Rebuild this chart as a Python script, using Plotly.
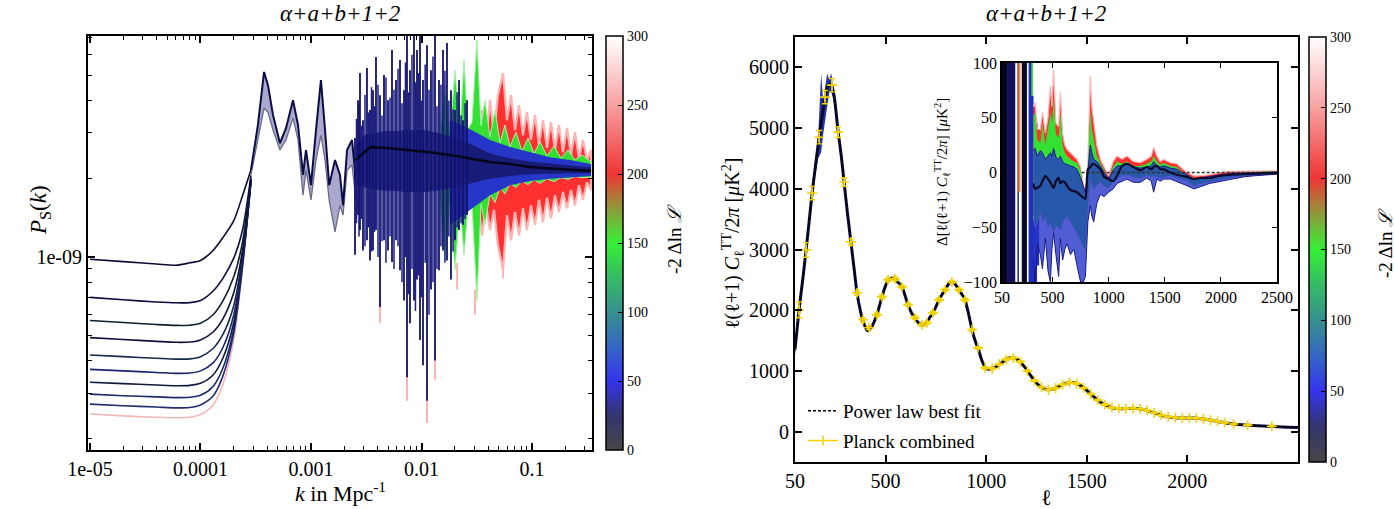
import plotly.graph_objects as go

SERIF = "Liberation Serif"

# ======================= LEFT PANEL: P_S(k) (values in units of 1e-9) =======================
K_LOW = [1e-5, 2e-5, 4e-5, 6e-5, 8e-5, 1e-4, 1.3e-4, 1.6e-4, 2e-4, 2.4e-4, 2.86e-4]
PS_LOW_1 = [0.98, 0.96, 0.94, 0.93, 0.95, 0.97, 1.06, 1.19, 1.38, 1.72, 2.16]
PS_LOW_2 = [0.70, 0.685, 0.672, 0.667, 0.668, 0.68, 0.74, 0.83, 0.99, 1.27, 2.06]
PS_LOW_3 = [0.57, 0.56, 0.55, 0.546, 0.547, 0.556, 0.60, 0.68, 0.84, 1.14, 2.01]
PS_LOW_4 = [0.49, 0.482, 0.474, 0.47, 0.471, 0.48, 0.515, 0.58, 0.73, 1.06, 2.00]
PS_LOW_5 = [0.42, 0.414, 0.408, 0.405, 0.406, 0.414, 0.445, 0.505, 0.65, 1.01, 1.98]
PS_LOW_6 = [0.37, 0.365, 0.36, 0.357, 0.358, 0.365, 0.392, 0.45, 0.60, 0.98, 1.97]
PS_LOW_7 = [0.33, 0.326, 0.322, 0.32, 0.321, 0.327, 0.352, 0.41, 0.56, 0.96, 1.96]
PS_LOW_8 = [0.297, 0.293, 0.29, 0.288, 0.289, 0.294, 0.318, 0.375, 0.53, 0.94, 1.95]
PS_LOW_9 = [0.272, 0.268, 0.265, 0.263, 0.264, 0.27, 0.292, 0.35, 0.51, 0.92, 1.94]
PS_LOW_10 = [0.249, 0.245, 0.242, 0.241, 0.242, 0.248, 0.27, 0.325, 0.48, 0.90, 1.93]

K_MID = [2.86e-4, 3.31e-4, 3.76e-4, 4.08e-4, 4.53e-4, 5.24e-4, 5.94e-4, 6.87e-4, 7.63e-4, 8.47e-4,
         9.01e-4, 1.0e-3, 1.11e-3, 1.23e-3, 1.34e-3, 1.46e-3, 1.65e-3, 1.83e-3, 1.95e-3, 2.12e-3,
         2.35e-3, 2.55e-3]
PS_MID_TOP = [2.16, 3.22, 5.15, 4.58, 3.52, 2.74, 3.13, 4.01, 3.22, 2.07, 2.58, 1.89, 3.08, 4.79,
              3.08, 1.89, 2.36, 2.07, 1.58, 2.58, 2.82, 1.98]
PS_MID_BOT = [2.07, 2.82, 3.74, 3.60, 3.08, 2.58, 2.82, 3.42, 2.82, 1.73, 2.16, 1.66, 2.36, 2.94,
              2.36, 1.66, 1.25, 1.58, 1.45, 2.16, 2.26, 1.66]

K_CEN = [2.55e-3, 3.42e-3, 5.19e-3, 7.87e-3, 1.19e-2, 1.81e-2, 2.75e-2, 4.17e-2, 6.32e-2, 9.59e-2,
         0.1455, 0.2208, 0.342]
PS_CEN = [2.36, 2.65, 2.62, 2.58, 2.53, 2.47, 2.40, 2.32, 2.28, 2.22, 2.19, 2.16, 2.14]

K_CORE = [2.55e-3, 3.08e-3, 3.79e-3, 4.68e-3, 5.75e-3, 7.10e-3, 8.73e-3, 1.08e-2, 1.32e-2, 1.63e-2,
          2.01e-2, 2.48e-2, 3.05e-2, 4.17e-2, 6.32e-2, 9.59e-2, 0.1455, 0.2208, 0.342]
PS_CORE_UP = [2.70, 2.95, 3.00, 3.05, 3.05, 3.08, 3.08, 3.08, 3.02, 2.95, 2.87, 2.78, 2.66, 2.50,
              2.40, 2.33, 2.29, 2.25, 2.21]
PS_CORE_LO = [1.90, 1.85, 1.82, 1.80, 1.80, 1.78, 1.78, 1.78, 1.80, 1.82, 1.86, 1.90, 1.94, 2.00,
              2.05, 2.08, 2.09, 2.10, 2.10]

K_BLUE = [0.0181, 0.0201, 0.0275, 0.0417, 0.0632, 0.0959, 0.1455, 0.2208, 0.342]
PS_BLUE_UP = [3.36, 3.30, 3.10, 2.82, 2.65, 2.53, 2.42, 2.36, 2.28]
PS_BLUE_LO = [1.33, 1.38, 1.52, 1.73, 1.89, 1.96, 2.00, 2.03, 2.05]

K_GREEN = [0.01470, 0.01632, 0.01811, 0.02010, 0.02231, 0.02424, 0.02635, 0.02864, 0.03178, 0.03455,
           0.03755, 0.04168, 0.04626, 0.05134, 0.05698, 0.06323, 0.07164, 0.08118, 0.09200, 0.1042,
           0.1181, 0.1367, 0.1581, 0.1830, 0.2117, 0.2449, 0.2835, 0.3419]
PS_GREEN_UP = [3.00, 4.58, 3.00, 5.23, 3.10, 5.72, 3.10, 3.30, 6.83, 3.20, 4.01, 2.90, 3.68, 2.75,
               3.22, 2.65, 3.02, 2.55, 2.87, 2.50, 2.77, 2.45, 2.67, 2.40, 2.58, 2.36, 2.47, 2.32]
PS_GREEN_LO = [1.60, 0.97, 1.60, 0.89, 1.60, 1.02, 1.55, 1.60, 0.68, 1.60, 1.33, 1.75, 1.62, 1.85,
               1.75, 1.92, 1.85, 1.96, 1.90, 1.98, 1.92, 2.00, 1.95, 2.02, 1.99, 2.04, 2.02, 2.03]

K_RED = [0.0324, 0.0353, 0.0384, 0.0417, 0.0453, 0.0492, 0.0547, 0.0594, 0.0646, 0.0702, 0.0763,
         0.0829, 0.0901, 0.0979, 0.1064, 0.1156, 0.1258, 0.1367, 0.1486, 0.1615, 0.1754, 0.1908,
         0.2073, 0.2254, 0.2449, 0.2661, 0.2895, 0.3147, 0.3420]
PS_RED_UP = [2.58, 3.68, 2.82, 4.01, 2.94, 4.19, 5.10, 3.36, 4.19, 3.08, 3.84, 2.94, 3.61, 2.82,
             3.52, 2.70, 3.36, 2.63, 3.30, 2.58, 3.22, 2.53, 3.14, 2.47, 3.02, 2.40, 2.82, 2.36, 2.58]
PS_RED_LO = [1.66, 1.21, 1.58, 1.27, 1.52, 1.11, 0.89, 1.45, 1.16, 1.49, 1.21, 1.54, 1.27, 1.58,
             1.33, 1.66, 1.36, 1.69, 1.41, 1.73, 1.49, 1.78, 1.54, 1.81, 1.58, 1.89, 1.66, 1.94, 1.81]

K_NAVY = [2.502e-3, 2.663e-3, 2.776e-3, 2.955e-3, 3.211e-3, 3.420e-3, 3.640e-3, 3.874e-3, 4.211e-3,
          4.578e-3, 4.976e-3, 5.408e-3, 5.878e-3, 6.389e-3, 6.944e-3, 7.392e-3, 7.868e-3, 8.553e-3,
          9.105e-3, 9.692e-3, 1.032e-2, 1.122e-2, 1.219e-2, 1.325e-2, 1.440e-2, 1.565e-2, 1.701e-2,
          1.849e-2, 2.010e-2, 2.185e-2, 2.375e-2, 2.581e-2]
PS_NAVY_UP = [2.87, 4.01, 5.10, 3.36, 5.33, 3.68, 4.38, 5.88, 4.19, 5.01, 4.01, 6.25, 4.79, 5.72,
              4.38, 8.0, 5.23, 8.0, 6.25, 8.0, 4.79, 6.52, 5.23, 8.0, 4.79, 6.25, 6.65, 4.38, 3.68,
              4.79, 3.36, 4.01]
PS_NAVY_DN = [1.02, 1.45, 1.27, 1.06, 1.16, 0.97, 1.06, 1.27, 0.642, 1.16, 1.06, 0.957, 1.16, 0.89,
              0.68, 0.345, 0.557, 0.68, 0.82, 0.48, 0.384, 0.28, 0.75, 0.40, 0.89, 1.06, 0.97, 0.82,
              1.16, 1.27, 1.33, 1.45]

K_NAVY2 = [2.58e-3, 2.72e-3, 2.86e-3, 3.08e-3, 3.31e-3, 3.53e-3, 3.76e-3, 4.04e-3, 4.39e-3, 4.77e-3,
           5.19e-3, 5.64e-3, 6.13e-3, 6.66e-3, 7.16e-3, 7.63e-3, 8.20e-3, 8.82e-3, 9.39e-3, 1.00e-2,
           1.08e-2, 1.17e-2, 1.27e-2, 1.38e-2, 1.50e-2, 1.63e-2, 1.77e-2, 1.93e-2, 2.10e-2, 2.28e-2,
           2.48e-2]
PS_NAVY2_UP = [3.4, 3.9, 3.2, 4.2, 3.6, 4.5, 3.8, 4.6, 3.5, 4.9, 4.1, 4.4, 5.3, 3.9, 5.6, 4.3, 6.0,
               4.7, 5.1, 4.0, 5.5, 4.4, 5.9, 3.8, 4.6, 5.2, 4.0, 3.7, 4.3, 3.5, 3.9]
PS_NAVY2_DN = [1.35, 1.2, 1.4, 1.1, 1.3, 1.05, 1.25, 1.0, 1.15, 0.95, 1.2, 0.9, 1.1, 0.8, 1.0, 0.72,
               0.9, 0.62, 0.85, 0.7, 0.95, 0.6, 0.8, 0.9, 1.1, 0.95, 1.2, 1.05, 1.3, 1.35, 1.4]

K_PINK = [4.211e-3, 7.392e-3, 1.122e-2, 1.325e-2, 2.10e-2, 3.05e-2, 5.47e-2]
PS_PINK_FROM = [0.70, 0.40, 0.32, 0.45, 0.95, 0.75, 0.95]
PS_PINK_TIP = [0.557, 0.28, 0.23, 0.336, 0.75, 0.60, 0.83]

# ======================= RIGHT PANEL: C_l^TT =======================
ELL_FIT = [50, 70, 90, 105, 120, 135, 150, 170, 185, 200, 215, 230, 245, 264, 280, 294, 310, 328, 345,
           358, 375, 390, 410, 430, 457, 482, 500, 515, 535, 550, 565, 582, 597, 612, 630, 646, 665,
           681, 700, 720, 736, 751, 766, 781, 796, 813, 830, 848, 865, 880, 895, 912, 930, 945, 960,
           980, 1000, 1020, 1045, 1075, 1105, 1132, 1160, 1190, 1220, 1250, 1280, 1310, 1340, 1370,
           1400, 1430, 1460, 1490, 1520, 1550, 1580, 1610, 1640, 1670, 1700, 1730, 1760, 1790, 1820,
           1850, 1880, 1910, 1940, 1970, 2000, 2030, 2060, 2090, 2120, 2150, 2180, 2210, 2250, 2300,
           2350, 2400, 2450, 2500, 2550]
DL_FIT = [1350, 2000, 2550, 2990, 3450, 3930, 4330, 4850, 5200, 5510, 5700, 5720, 5520, 4950, 4540,
          4110, 3620, 3120, 2650, 2290, 1990, 1800, 1660, 1720, 1924, 2220, 2400, 2500, 2530, 2500,
          2450, 2385, 2240, 2089, 1950, 1870, 1790, 1765, 1780, 1880, 1957, 2060, 2171, 2260, 2336,
          2430, 2467, 2420, 2336, 2260, 2171, 1950, 1678, 1500, 1370, 1160, 1040, 1030, 1060, 1130,
          1200, 1220, 1180, 1070, 930, 800, 720, 690, 710, 760, 800, 810, 780, 710, 620, 530, 460,
          410, 385, 378, 380, 385, 378, 358, 325, 292, 262, 242, 230, 225, 226, 226, 218, 205, 188,
          168, 150, 133, 117, 105, 97, 89, 81, 73, 68]

ELL_BAND = [50, 70, 90, 110, 130, 150, 165, 180, 190, 200, 210, 220, 230, 240, 250, 265, 280, 300, 330]
DL_BAND_UP = [1450, 2120, 2680, 3280, 3900, 4460, 4850, 5900, 5450, 5650, 5900, 5800, 5900, 5720,
              5480, 5000, 4600, 4000, 3100]
DL_BAND_LO = [1250, 1880, 2420, 3000, 3640, 4200, 4500, 4600, 4900, 5200, 5350, 5580, 5600, 5480,
              5280, 4850, 4480, 3900, 3040]

ELL_DAT = [70, 105, 135, 170, 199, 234, 264, 294, 328, 358, 388, 418, 457, 482, 512, 547, 582, 612,
           646, 681, 706, 736, 766, 796, 830, 865, 895, 930, 960, 995, 1030, 1065, 1100, 1135, 1170,
           1205, 1240, 1275, 1310, 1345, 1380, 1415, 1450, 1485, 1520, 1555, 1590, 1625, 1660, 1695,
           1730, 1765, 1800, 1835, 1870, 1905, 1940, 1975, 2010, 2045, 2080, 2115, 2150, 2185, 2230,
           2300, 2420]
DL_DAT = [2007, 2993, 3930, 4850, 5510, 5707, 4934, 4112, 3125, 2286, 1842, 1710, 1924, 2220, 2500,
          2516, 2385, 2089, 1875, 1760, 1793, 1957, 2171, 2336, 2467, 2336, 2171, 1678, 1380, 1050,
          1040, 1110, 1190, 1215, 1150, 1000, 840, 735, 690, 715, 775, 810, 790, 720, 620, 520, 445,
          395, 380, 380, 385, 375, 350, 310, 272, 246, 232, 224, 226, 222, 210, 190, 168, 148, 125,
          108, 90]
ERR_DAT = [130, 120, 110, 110, 110, 110, 90, 70, 50, 40, 35, 30, 30, 30, 30, 30, 28, 25, 25, 25, 25,
           25, 25, 25, 25, 25, 25, 22, 20, 18, 18, 18, 18, 18, 18, 16, 16, 15, 15, 15, 15, 15, 15, 14,
           14, 14, 14, 14, 13, 13, 13, 13, 13, 13, 12, 12, 12, 12, 12, 12, 12, 12, 12, 12, 12, 12, 12]

# ---- inset: residuals ----
INS_ELL = [330, 345, 365, 392, 410, 436, 460, 481, 495, 510, 530, 555, 570, 590, 610, 629, 660, 690,
           718, 750, 775, 793, 815, 837, 850, 867, 895, 926, 960, 1000, 1040, 1075, 1120, 1164, 1220,
           1283, 1340, 1380, 1401, 1430, 1460, 1490, 1550, 1609, 1650, 1698, 1760, 1817, 1900, 2000,
           2100, 2200, 2300, 2400, 2500]
INS_RED_UP = [60, 64, 40, 39, 55, 36, 50, 79, 60, 94, 45, 42, 73, 35, 25, 21, 18, 15, 12, 5, -10, -21,
              10, 88, 60, 45, 25, 12, 5, -3, 10, 15, 12, 15, 10, 9, 12, 15, 23, 15, 10, 12, 9, 8, 4, 0,
              -3, -3, -2, 0, 1, 1, 1.5, 1.5, 1.5]
INS_GRN_UP = [52, 55, 30, 27, 45, 25, 40, 55, 45, 67, 35, 32, 55, 25, 18, 15, 12, 10, 9, 2, -14, -24,
              5, 58, 40, 30, 15, 9, 2, -6, 5, 10, 8, 10, 6, 6, 8, 10, 15, 10, 7, 9, 6, 5, 1, -2, -5,
              -6, -4, -2, -1, 0, 0.5, 1, 1]
INS_GRN_LO = [-40, -50, -45, -35, -45, -40, -50, -45, -50, -55, -48, -50, -52, -45, -42, -40, -45, -50,
              -55, -62, -68, -70, -30, -5, -10, -15, -12, -8, -12, -14, -8, -5, -3, -2, -4, -5, -3, -4,
              -2, -4, -5, -4, -3, -5, -6, -7, -12, -10, -8, -6, -4, -3, -2, -1.5, -1]
INS_BLU_UP = [20, 22, 15, 20, 18, 12, 15, 18, 15, 22, 14, 12, 15, 10, 8, 7, 6, 5, 3, -5, -12, -18, 0,
              25, 18, 12, 10, 6, 0, -6, 2, 6, 6, 8, 5, 4, 5, 6, 10, 6, 5, 6, 4, 3, 0, -2, -6, -5, -4,
              -2, -1, -0.5, 0, 0.3, 0.5]
INS_BLU_LO = [-80, -100, -65, -75, -88, -60, -90, -100, -70, -55, -75, -95, -60, -80, -70, -65, -75,
              -70, -85, -100, -100, -95, -45, -30, -40, -45, -28, -20, -22, -18, -15, -10, -8, -6, -9,
              -9, -5, -8, -18, -6, -8, -6, -6, -9, -10, -12, -15, -13, -10, -8, -6, -4, -3, -2, -1.5]
INS_BLK = [-10, -15, -14, -12, -8, -3, -6, -9, -12, -14, -8, -5, -10, -8, -9, -12, -16, -17, -18, -21,
           -23, -24, 3, 5, 7, 8, 6, 3, -4, -6, -8, -3, 6, 8, 5, 2, 5, 3, 5, 6, 3, 3, 0, -2, -3, -4,
           -6, -5, -5, -3, -2, -1.5, -1, -0.8, -0.6]
INS_SPK_ELL = [300, 310, 320, 330, 340, 350, 360, 370]
INS_SPK_UP = [110, 40, 70, 30, 60, 20, 45, 15]
INS_SPK_DN = [-110, -70, -110, -80, -110, -110, -70, -85]
INS_BLK_L0 = [50, 95, 188, 226, 288]
INS_BLK_L1 = [95, 168, 200, 272, 302]
INS_BLK_LO = [-120, -120, -120, -120, -120]
INS_BLK_HI = [120, 120, 120, 120, 120]
INS_LINE_ELL = [205, 317]
INS_LINE_TOP = [110, 110]
INS_LINE_BOT = [-18, -67]
ZERO_ELL = [760, 2500]
ZERO_VAL = [0, 0]

CB_TICKS = [0, 50, 100, 150, 200, 250, 300]

# ======================= styles =======================
NAVY = "#12126a"
CORE = "rgba(22,22,105,0.85)"
BLUE = "#2536c8"
GREEN = "#35e035"
RED = "#ff3030"
PINK = "#ffb4b4"
BLACK = "#06061a"
YELLOW = "#f2d200"
LOW_COLORS = ["#0b0b35", "#0e0e42", "#0d2030", "#10103f", "#132a4a", "#1a2570", "#101a40",
              "#1c2a6a", "#232d70", "#f2b8b8"]
CS = [[0.0, "#474747"], [0.083, "#34346e"], [0.167, "#3434ee"], [0.25, "#3566c4"],
      [0.333, "#35908e"], [0.417, "#35bb66"], [0.5, "#35f035"], [0.583, "#8f9a3a"],
      [0.667, "#f03535"], [0.75, "#f46a6a"], [0.833, "#f8a0a0"], [0.917, "#fcd2d2"],
      [1.0, "#ffffff"]]

E9 = 1e-9


def sc(vals):
    return [v * E9 for v in vals]


def poly(xs, up, lo):
    return list(xs) + list(xs)[::-1], list(up) + list(lo)[::-1]


def spikes(ks, ups, dns, scale=1.0):
    xs, ys = [], []
    for k, u, d in zip(ks, ups, dns):
        xs += [k, k, None]
        ys += [u * scale, d * scale, None]
    return xs, ys


fig = go.Figure()
L = dict(xaxis="x", yaxis="y", showlegend=False, hoverinfo="skip")
R = dict(xaxis="x2", yaxis="y2", hoverinfo="skip")
I = dict(xaxis="x3", yaxis="y3", showlegend=False, hoverinfo="skip")

# ---- left panel ----
low_sets = [PS_LOW_10, PS_LOW_9, PS_LOW_8, PS_LOW_7, PS_LOW_6, PS_LOW_5, PS_LOW_4, PS_LOW_3,
            PS_LOW_2, PS_LOW_1]
low_cols = LOW_COLORS[::-1]
for vals, col in zip(low_sets, low_cols):
    fig.add_trace(go.Scatter(x=K_LOW, y=sc(vals), mode="lines",
                             line=dict(color=col, width=1.6, shape="spline", smoothing=0.8), **L))

px_, py_ = poly(K_MID, PS_MID_TOP, PS_MID_BOT)
fig.add_trace(go.Scatter(x=px_, y=sc(py_), mode="lines", fill="toself",
                         fillcolor="rgba(40,40,130,0.4)", line=dict(width=0), **L))
fig.add_trace(go.Scatter(x=K_MID, y=sc(PS_MID_BOT), mode="lines", line=dict(color="#6b6b8c", width=1.3), **L))
fig.add_trace(go.Scatter(x=K_MID, y=sc(PS_MID_TOP), mode="lines", line=dict(color="#0c0c48", width=2), **L))

# red (with pink fringe)
px_, py_ = poly(K_RED, PS_RED_UP, PS_RED_LO)
fig.add_trace(go.Scatter(x=px_, y=sc(py_), mode="lines", fill="toself", fillcolor=RED,
                         line=dict(color=PINK, width=2.2), **L))
# green
px_, py_ = poly(K_GREEN, PS_GREEN_UP, PS_GREEN_LO)
fig.add_trace(go.Scatter(x=px_, y=sc(py_), mode="lines", fill="toself", fillcolor=GREEN,
                         line=dict(color="#a8f0a8", width=1), **L))
# pink tips
sx, sy = spikes(K_PINK, PS_PINK_FROM, PS_PINK_TIP, E9)
fig.add_trace(go.Scatter(x=sx, y=sy, mode="lines", line=dict(color=PINK, width=2), **L))
# blue band
px_, py_ = poly(K_BLUE, PS_BLUE_UP, PS_BLUE_LO)
fig.add_trace(go.Scatter(x=px_, y=sc(py_), mode="lines", fill="toself", fillcolor=BLUE,
                         line=dict(width=0), **L))
# navy core
px_, py_ = poly(K_CORE, PS_CORE_UP, PS_CORE_LO)
fig.add_trace(go.Scatter(x=px_, y=sc(py_), mode="lines", fill="toself", fillcolor=CORE,
                         line=dict(width=0), **L))
# navy oscillation spikes
sx, sy = spikes(K_NAVY2, PS_NAVY2_UP, PS_NAVY2_DN, E9)
fig.add_trace(go.Scatter(x=sx, y=sy, mode="lines", line=dict(color="#1c1c8c", width=1.5), **L))
sx, sy = spikes(K_NAVY, PS_NAVY_UP, PS_NAVY_DN, E9)
fig.add_trace(go.Scatter(x=sx, y=sy, mode="lines", line=dict(color=NAVY, width=1.8), **L))
# best (black) line
fig.add_trace(go.Scatter(x=K_CEN, y=sc(PS_CEN), mode="lines", line=dict(color=BLACK, width=2.5), **L))

CBCOMMON = dict(xanchor="left", xpad=0, ypad=0, yanchor="middle", lenmode="fraction",
                thickness=17, thicknessmode="pixels", outlinewidth=1.5, outlinecolor="black",
                tickvals=CB_TICKS, ticks="inside", ticklen=5, tickcolor="black",
                tickfont=dict(family=SERIF, size=14, color="black"))
# colorbar (left)
fig.add_trace(go.Scatter(x=[None], y=[None], mode="markers",
                         marker=dict(color=[0], colorscale=CS, cmin=0, cmax=300, showscale=True,
                                     colorbar=dict(x=606 / 1395, y=1 - 243 / 509, len=414 / 509,
                                                   **CBCOMMON)),
                         **L))

# ---- right panel ----
px_, py_ = poly(ELL_BAND, DL_BAND_UP, DL_BAND_LO)
fig.add_trace(go.Scatter(x=px_, y=py_, mode="lines", fill="toself", fillcolor="#2333a8",
                         line=dict(width=0), showlegend=False, **R))
fig.add_trace(go.Scatter(x=ELL_FIT, y=DL_FIT, mode="lines", line=dict(color="#0c0c3c", width=3,
                         shape="spline", smoothing=0.6), showlegend=False, **R))
fig.add_trace(go.Scatter(x=ELL_FIT, y=DL_FIT, mode="lines", name="Power law best fit",
                         legendgroup="a",
                         line=dict(color="black", width=1.5, dash="3px,2px", shape="spline",
                                   smoothing=0.6), **R))
fig.add_trace(go.Scatter(x=ELL_DAT, y=DL_DAT, mode="markers", showlegend=False,
                         marker=dict(symbol="cross-thin", size=7, color=YELLOW,
                                     line=dict(color=YELLOW, width=1.6)),
                         error_y=dict(type="data", array=ERR_DAT, color=YELLOW, thickness=1.4, width=3),
                         **R))
fig.add_trace(go.Scatter(x=[None], y=[None], mode="lines+markers", name="Planck combined",
                         legendgroup="b",
                         line=dict(color=YELLOW, width=1.5),
                         marker=dict(symbol="line-ns", size=7, line=dict(color=YELLOW, width=1.5)),
                         **R))
# colorbar (right)
fig.add_trace(go.Scatter(x=[None], y=[None], mode="markers", showlegend=False,
                         marker=dict(color=[0], colorscale=CS, cmin=0, cmax=300, showscale=True,
                                     colorbar=dict(x=1309 / 1395, y=1 - 249.5 / 509, len=425 / 509,
                                                   **CBCOMMON)),
                         **R))

# ---- inset ----
blk_cols = ["#06061a", "#10105e", "#12125e", "#08082a", "#1c2cb0"]
for l0, l1, lo, hi, col in zip(INS_BLK_L0, INS_BLK_L1, INS_BLK_LO, INS_BLK_HI, blk_cols):
    fig.add_trace(go.Scatter(x=[l0, l1, l1, l0], y=[lo, lo, hi, hi], mode="lines", fill="toself",
                             fillcolor=col, line=dict(width=0), **I))
for l, t, b, col in zip(INS_LINE_ELL, INS_LINE_TOP, INS_LINE_BOT, ["#ff8a30", GREEN]):
    fig.add_trace(go.Scatter(x=[l, l], y=[t, b], mode="lines", line=dict(color=col, width=2), **I))
zx, zy = [], []
for l, u, d in zip(INS_SPK_ELL, INS_SPK_UP, INS_SPK_DN):
    zx += [l, l]
    zy += [u, d]
fig.add_trace(go.Scatter(x=zx, y=zy, mode="lines", line=dict(color="#1f2fc0", width=2.5), **I))
px_, py_ = poly(INS_ELL, INS_RED_UP, INS_GRN_LO)
fig.add_trace(go.Scatter(x=px_, y=py_, mode="lines", fill="toself", fillcolor=RED,
                         line=dict(color=PINK, width=1.2), **I))
px_, py_ = poly(INS_ELL, INS_GRN_UP, INS_GRN_LO)
fig.add_trace(go.Scatter(x=px_, y=py_, mode="lines", fill="toself", fillcolor=GREEN,
                         line=dict(width=0), **I))
px_, py_ = poly(INS_ELL, INS_BLU_UP, INS_BLU_LO)
fig.add_trace(go.Scatter(x=px_, y=py_, mode="lines", fill="toself", fillcolor="rgba(37,54,200,0.8)",
                         line=dict(color="#1a1a8a", width=1), **I))
fig.add_trace(go.Scatter(x=ZERO_ELL, y=ZERO_VAL, mode="lines",
                         line=dict(color="#333333", width=1.3, dash="3px,2px"), **I))
fig.add_trace(go.Scatter(x=INS_ELL, y=INS_BLK, mode="lines",
                         line=dict(color="#0a0a2a", width=2.2, shape="spline", smoothing=0.6), **I))

# ======================= layout =======================
AX = dict(showline=True, linecolor="black", linewidth=2, mirror="allticks", ticks="inside",
          ticklen=7, tickwidth=1.5, tickcolor="black", showgrid=False, zeroline=False,
          tickfont=dict(family=SERIF, size=20, color="black"))
AXI = dict(showline=True, linecolor="black", linewidth=1.8, mirror="allticks", ticks="inside",
           ticklen=5, tickwidth=1.2, tickcolor="black", showgrid=False, zeroline=False,
           tickfont=dict(family=SERIF, size=16, color="black"))
minor_x = [m * 10 ** e for e in range(-5, 0) for m in range(2, 10)]
minor_y = [m * 10 ** e for e in (-10, -9) for m in range(2, 10)]

fig.update_layout(
    width=1395, height=509, margin=dict(l=0, r=0, t=0, b=0, autoexpand=False),
    paper_bgcolor="white", plot_bgcolor="white",
    xaxis=dict(**AX, domain=[88 / 1395, 592 / 1395], anchor="y", type="log",
               range=[-5.018, -0.457], tickmode="array",
               tickvals=[1e-5, 1e-4, 1e-3, 1e-2, 1e-1],
               ticktext=["1e-05", "0.0001", "0.001", "0.01", "0.1"],
               minor=dict(ticks="inside", ticklen=4, tickwidth=1, tickcolor="black",
                          tickmode="array", tickvals=minor_x)),
    yaxis=dict(**AX, domain=[1 - 450 / 509, 1 - 36 / 509], anchor="x", type="log",
               range=[-9.742, -8.150], tickmode="array", tickvals=[1e-9], ticktext=["1e-09"],
               minor=dict(ticks="inside", ticklen=4, tickwidth=1, tickcolor="black",
                          tickmode="array", tickvals=minor_y)),
    xaxis2=dict(**AX, domain=[795 / 1395, 1298 / 1395], anchor="y2", range=[50, 2550],
                tickmode="array", tickvals=[50, 500, 1000, 1500, 2000]),
    yaxis2=dict(**AX, domain=[1 - 462 / 509, 1 - 37 / 509], anchor="x2", range=[-500, 6500],
                tickmode="array", tickvals=[0, 1000, 2000, 3000, 4000, 5000, 6000]),
    xaxis3=dict(**AXI, domain=[1002 / 1395, 1277 / 1395], anchor="y3", range=[50, 2500],
                tickmode="array", tickvals=[50, 500, 1000, 1500, 2000, 2500]),
    yaxis3=dict(**AXI, domain=[1 - 282 / 509, 1 - 63 / 509], anchor="x3", range=[-100, 100],
                tickmode="array", tickvals=[-100, -50, 0, 50, 100]),
    legend=dict(x=803 / 1395, y=1 - 392 / 509, xanchor="left", yanchor="top",
                bgcolor="rgba(0,0,0,0)", traceorder="grouped", tracegroupgap=2,
                font=dict(family=SERIF, size=19, color="black"), itemwidth=30),
    showlegend=True,
)

ann = [
    dict(x=340, y=14, text="<i>α+a+b+1+2</i>", size=23, angle=0),
    dict(x=1046, y=14, text="<i>α+a+b+1+2</i>", size=23, angle=0),
    dict(x=40, y=210, text="<i>P</i><sub>S</sub>(<i>k</i>)", size=23, angle=-90),
    dict(x=340, y=492, text="<i>k</i> in Mpc<sup>-1</sup>", size=22, angle=0),
    dict(x=733, y=244,
         text="ℓ(ℓ+1) <i>C</i><sub>ℓ</sub><sup>TT</sup>/2<i>π</i> [<i>μ</i>K<sup>2</sup>]",
         size=20, angle=-90),
    dict(x=1046, y=497, text="ℓ", size=22, angle=0),
    dict(x=674, y=239, text="-2 Δln <i>ℒ</i>", size=19, angle=-90),
    dict(x=1386, y=243, text="-2 Δln <i>ℒ</i>", size=19, angle=-90),
    dict(x=942, y=172,
         text="Δ[ℓ(ℓ+1) <i>C</i><sub>ℓ</sub><sup>TT</sup>/2<i>π</i>] [<i>μ</i>K<sup>2</sup>]",
         size=15, angle=-90),
]
fig.update_layout(annotations=[
    dict(x=a["x"] / 1395, y=1 - a["y"] / 509, xref="paper", yref="paper", text=a["text"],
         showarrow=False, textangle=a["angle"], xanchor="center", yanchor="middle",
         font=dict(family=SERIF, size=a["size"], color="black"))
    for a in ann
])

fig.write_html("out.html")
